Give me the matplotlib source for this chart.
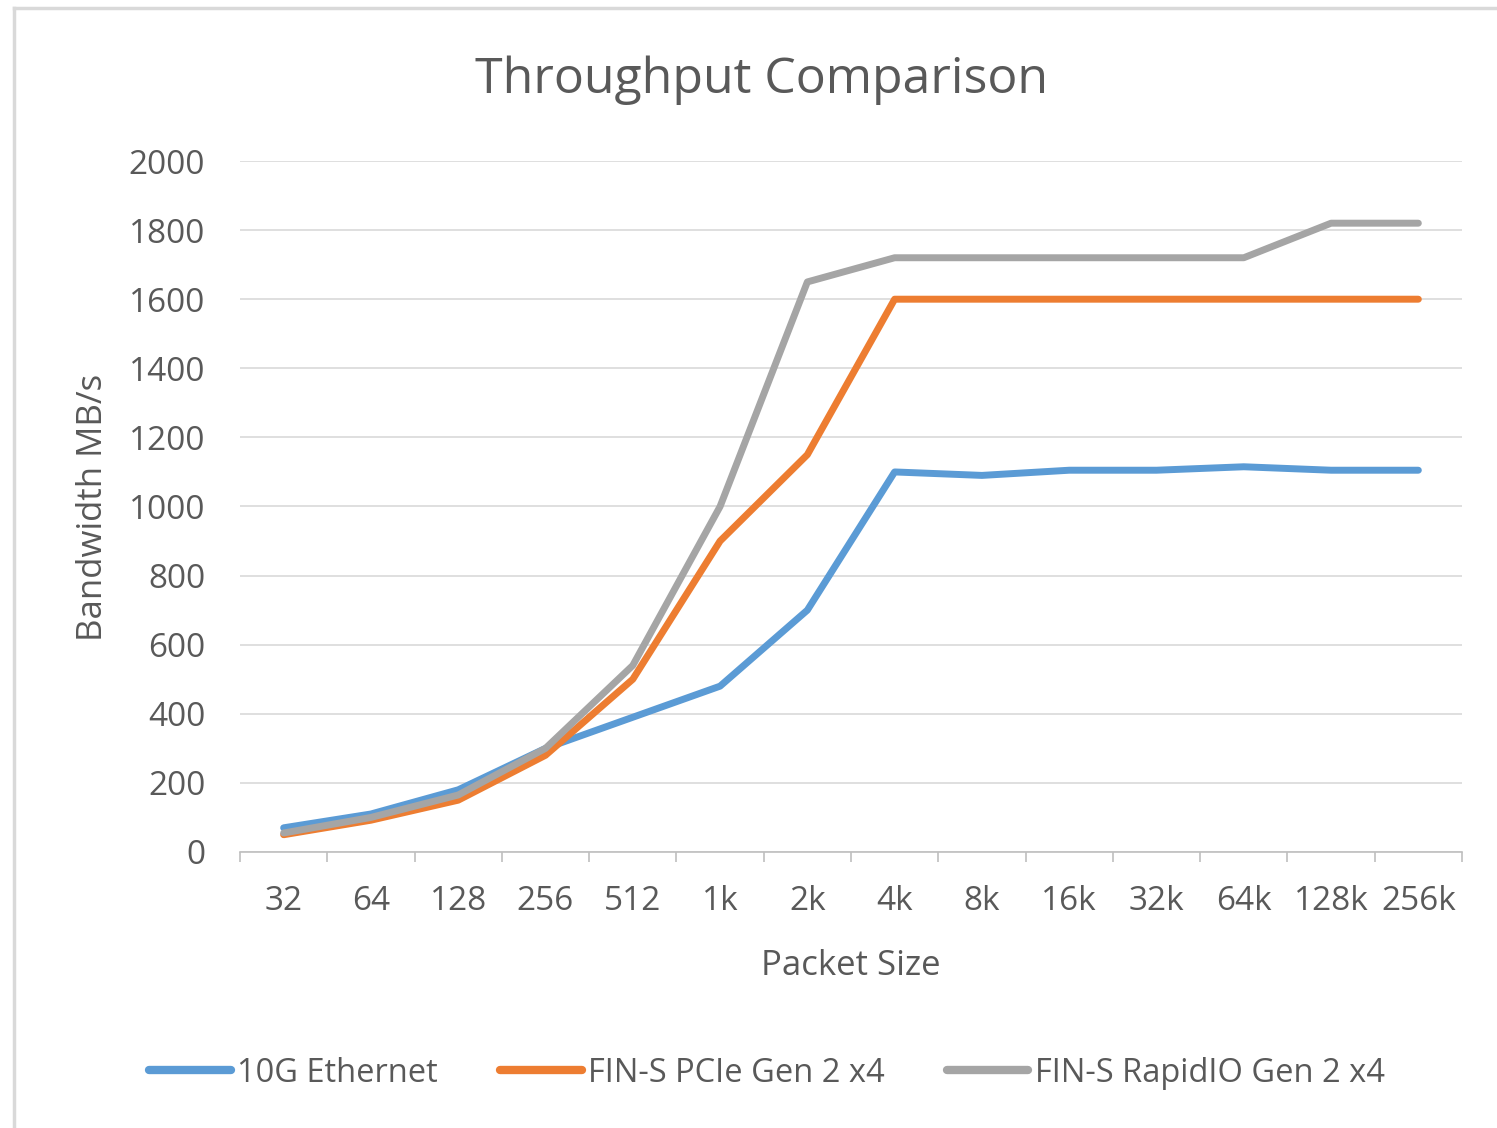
import matplotlib
matplotlib.use("Agg")
import matplotlib.pyplot as plt
from matplotlib.lines import Line2D
import numpy as np

plt.rcParams['font.family'] = ['Open Sans', 'DejaVu Sans']

categories = ["32", "64", "128", "256", "512", "1k", "2k", "4k", "8k", "16k", "32k", "64k", "128k", "256k"]
ethernet = [70, 110, 180, 300, 390, 480, 700, 1100, 1090, 1105, 1105, 1115, 1105, 1105]
pcie = [50, 92, 150, 280, 500, 900, 1150, 1600, 1600, 1600, 1600, 1600, 1600, 1600]
rapidio = [55, 100, 165, 300, 540, 1000, 1650, 1720, 1720, 1720, 1720, 1720, 1820, 1820]
series_names = ["10G Ethernet", "FIN-S PCIe Gen 2 x4", "FIN-S RapidIO Gen 2 x4"]
yticks = [0, 200, 400, 600, 800, 1000, 1200, 1400, 1600, 1800, 2000]

colors = ["#5B9BD5", "#ED7D31", "#A5A5A5"]
text_color = "#595959"
W, H = 1497, 1128
fig = plt.figure(figsize=(W / 100, H / 100), dpi=100)

# outer frame (partial border visible in reference)
fig.add_artist(Line2D([14 / W, 1.0], [1 - 8 / H, 1 - 8 / H], transform=fig.transFigure, color="#d9d9d9", lw=2.5))
fig.add_artist(Line2D([14 / W, 14 / W], [1 - 8 / H, 0.0], transform=fig.transFigure, color="#d9d9d9", lw=2.5))

ax = fig.add_axes([240 / W, 1 - 852 / H, (1462 - 240) / W, (852 - 161) / H])
x = np.arange(len(categories))
for vals, c, name in zip([ethernet, pcie, rapidio], colors, series_names):
    ax.plot(x, vals, color=c, lw=5, label=name, solid_capstyle='round', solid_joinstyle='round')

ax.set_xlim(-0.5, len(categories) - 0.5)
ax.set_ylim(0, 2000)
ax.set_yticks(yticks)
ax.set_yticklabels([str(v) for v in yticks])
ax.set_xticks(x)
ax.set_xticklabels(categories)
ax.set_xticks(np.arange(len(categories) + 1) - 0.5, minor=True)
ax.tick_params(axis='x', which='major', length=0, pad=24, labelsize=24, labelcolor=text_color)
ax.tick_params(axis='x', which='minor', length=7.5, width=1.2, color="#bfbfbf", direction='out')
ax.tick_params(axis='y', length=0, pad=25, labelsize=24, labelcolor=text_color)
ax.grid(axis='y', color="#d9d9d9", lw=1.2)
ax.set_axisbelow(True)
for s in ['top', 'right', 'left']:
    ax.spines[s].set_visible(False)
ax.spines['bottom'].set_color("#bfbfbf")
ax.spines['bottom'].set_linewidth(1.2)

fig.text(762 / W, 1 - 93 / H, "Throughput Comparison", ha='center', va='baseline', fontsize=36, color=text_color)
fig.text(93 / W, 1 - 507 / H, "Bandwidth MB/s", ha='center', va='center', rotation=90, fontsize=25, color=text_color)
fig.text(851 / W, 1 - 975 / H, "Packet Size", ha='center', va='baseline', fontsize=25, color=text_color)

leg = fig.legend(loc='center', bbox_to_anchor=(767 / W, 1 - 1073 / H), ncol=3, frameon=False,
                 fontsize=23.5, handlelength=2.5, handletextpad=0.2, columnspacing=1.9, labelcolor=text_color)
for l in leg.get_lines():
    l.set_linewidth(6)

fig.savefig("out.png", dpi=100, facecolor="white")
